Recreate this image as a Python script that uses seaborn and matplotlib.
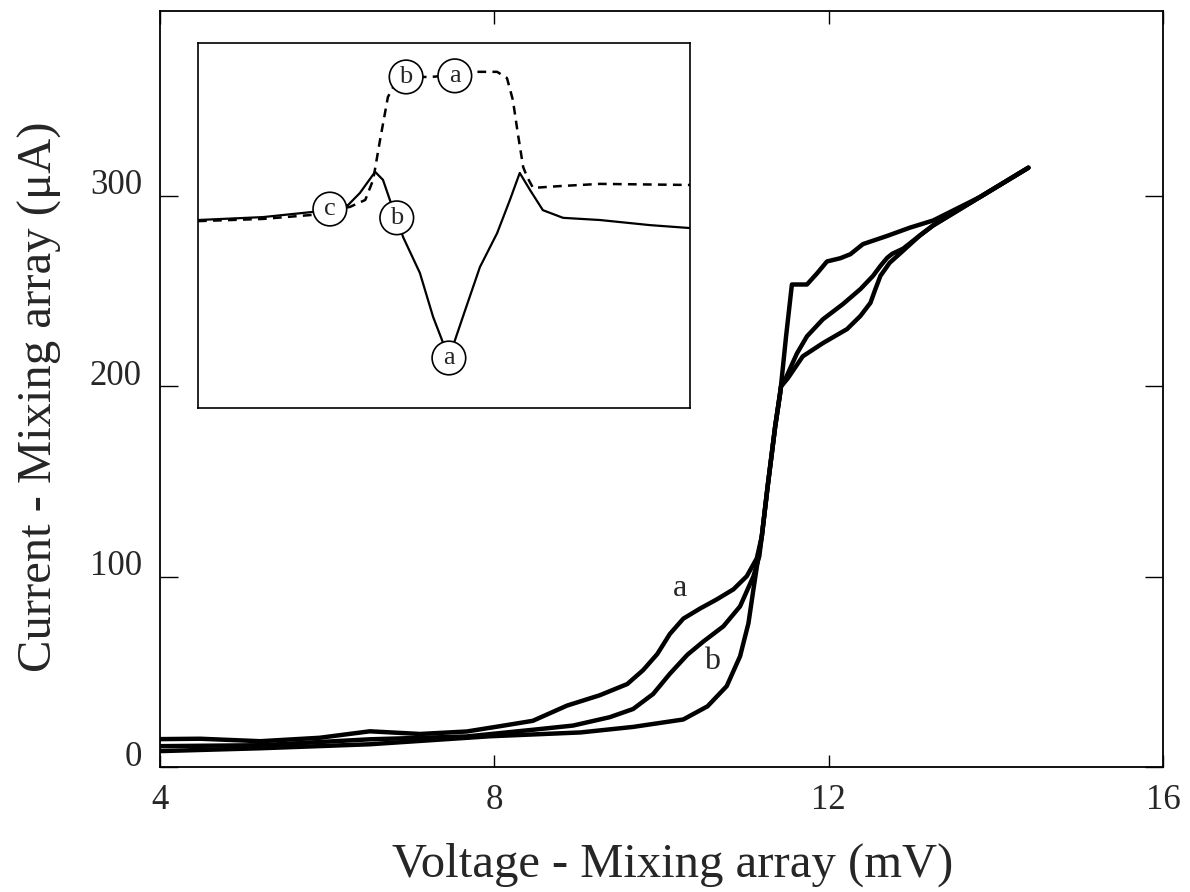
import matplotlib.pyplot as plt
import seaborn as sns
from matplotlib.transforms import ScaledTranslation

# Main I-V curves: voltage (mV) and current (uA)
volt_a = [4.00, 4.48, 5.20, 5.91, 6.51, 7.11, 7.67, 8.07, 8.46, 8.87, 9.26, 9.59, 9.78, 9.95,
          10.10, 10.26, 10.46, 10.66, 10.86, 11.02, 11.14, 11.20, 11.27, 11.36, 11.43, 11.51,
          11.69, 11.93, 12.22, 12.38, 12.50, 12.56, 12.62, 12.73, 12.89, 13.09, 13.25, 13.81, 14.39]
curr_a = [14.7, 14.9, 13.6, 15.4, 18.8, 17.4, 18.7, 21.5, 24.3, 32.3, 37.7, 43.6, 50.9, 59.4,
          69.9, 77.9, 83.2, 88.0, 93.3, 100.2, 109.6, 121.2, 147.4, 178.8, 199.8, 204.0,
          215.6, 222.5, 229.9, 236.8, 243.7, 251.0, 257.9, 264.7, 271.0, 279.0, 284.3, 299.2, 314.6]

volt_b = [4.00, 5.20, 6.51, 7.67, 8.46, 8.94, 9.38, 9.66, 9.90, 10.10, 10.31, 10.50, 10.74,
          10.94, 11.10, 11.17, 11.20, 11.27, 11.36, 11.43, 11.48, 11.62, 11.74, 11.93, 12.17,
          12.38, 12.53, 12.62, 12.70, 12.76, 12.89, 13.09, 13.25, 13.81, 14.39]
curr_b = [11.0, 11.5, 14.6, 16.1, 19.6, 21.8, 26.2, 30.5, 38.4, 49.0, 59.0, 65.9, 73.9,
          84.4, 100.2, 110.7, 121.2, 147.4, 178.8, 199.8, 203.5, 217.1, 226.1, 235.0, 243.0,
          250.9, 257.8, 263.1, 267.3, 269.4, 272.1, 279.0, 284.3, 299.2, 314.6]

volt_c = [4.00, 5.20, 6.51, 7.95, 9.03, 9.66, 10.26, 10.55, 10.78, 10.94, 11.04, 11.10, 11.16,
          11.20, 11.27, 11.36, 11.42, 11.49, 11.56, 11.74, 11.86, 11.98, 12.14, 12.26, 12.41,
          12.70, 12.97, 13.25, 13.81, 14.39]
curr_c = [8.4, 9.9, 12.0, 16.2, 18.2, 21.1, 25.0, 31.9, 42.5, 58.2, 75.5, 93.4, 110.7,
          121.2, 147.4, 178.8, 196.1, 226.0, 253.3, 253.3, 259.1, 265.4, 267.1, 269.2, 274.5,
          278.8, 283.1, 286.9, 299.2, 314.6]

# Inset traces (arbitrary units, no scale shown)
inset_u_solid = [0, 13.2, 23.2, 30.5, 32.9, 36.0, 37.6, 39.0, 40.4, 41.7, 45.1, 47.8, 51.0,
                 54.3, 57.3, 60.8, 63.4, 65.4, 67.5, 70.1, 74.2, 81.7, 91.9, 100]
inset_v_solid = [51.5, 52.3, 53.7, 55.6, 58.9, 64.7, 62.5, 57.0, 52.1, 46.8, 37.0, 24.9, 13.7,
                 26.8, 38.6, 47.9, 57.0, 64.4, 59.7, 54.2, 52.1, 51.5, 50.1, 49.3]
inset_u_dash = [0, 13.2, 23.2, 26.8, 30.9, 34.0, 35.6, 37.0, 38.6, 39.6, 42.1, 47.2, 52.2,
                56.7, 60.8, 62.8, 64.0, 65.0, 66.1, 66.9, 68.1, 73.6, 81.7, 100]
inset_v_dash = [51.2, 51.8, 52.9, 54.0, 55.1, 57.0, 62.5, 73.4, 85.2, 87.7, 90.7, 90.7, 91.2,
                92.1, 92.1, 90.4, 84.4, 75.3, 66.0, 63.3, 60.3, 60.8, 61.4, 61.1]

# circled markers in the inset
circle_labels = ['c', 'b', 'a', 'b', 'a']
circle_u = [26.8, 40.4, 51.0, 42.3, 52.2]
circle_v = [54.5, 52.1, 13.7, 90.7, 91.0]

sns.set_style('ticks')
plt.rcParams['font.family'] = ['Liberation Serif', 'DejaVu Serif']

fig = plt.figure(figsize=(11.9, 8.92), dpi=100)
ax = fig.add_axes([0.1345, 0.140, 0.8428, 0.848])

for v, c in [(volt_a, curr_a), (volt_b, curr_b), (volt_c, curr_c)]:
    sns.lineplot(x=v, y=c, ax=ax, color='black', lw=3.2, sort=False, estimator=None,
                 solid_capstyle='round', solid_joinstyle='round')

ax.text(10.22, 93.6, 'a', fontsize=23, ha='center', va='center')
ax.text(10.60, 55.4, 'b', fontsize=23, ha='center', va='center')

ax.set_xlim(4, 16)
ax.set_ylim(0, 397)
ax.set_xticks([4, 8, 12, 16])
ax.set_yticks([0, 100, 200, 300])
ax.tick_params(direction='in', top=True, right=True, labelsize=25, color='black', width=1)
ax.tick_params(axis='y', length=13, pad=13)
ax.tick_params(axis='x', length=9, pad=12)
for s in ax.spines.values():
    s.set_linewidth(1.3)
    s.set_color('black')

# labels in the original sit a little above their ticks
for lab in ax.get_yticklabels():
    lab.set_transform(lab.get_transform() + ScaledTranslation(0, 0.14, fig.dpi_scale_trans))

ax.set_xlabel('Voltage - Mixing array (mV)', fontsize=35)
ax.set_ylabel('Current - Mixing array (\u03bcA)', fontsize=35)
ax.xaxis.set_label_coords(0.511, -0.100)
ax.yaxis.set_label_coords(-0.098, 0.49)

# inset
ax_in = fig.add_axes([0.1664, 0.5426, 0.4134, 0.4092])
sns.lineplot(x=inset_u_solid, y=inset_v_solid, ax=ax_in, color='black', lw=1.6,
             sort=False, estimator=None)
sns.lineplot(x=inset_u_dash, y=inset_v_dash, ax=ax_in, color='black', lw=1.8,
             sort=False, estimator=None, linestyle=(0, (3.5, 2.5)))
for lab, u, v in zip(circle_labels, circle_u, circle_v):
    ax_in.text(u, v, lab, fontsize=19, ha='center', va='center', zorder=5,
               bbox=dict(boxstyle='circle,pad=0.22', fc='white', ec='black', lw=1.2))
ax_in.set_xlim(0, 100)
ax_in.set_ylim(0, 100)
ax_in.set_xticks([])
ax_in.set_yticks([])
ax_in.set_xlabel('')
ax_in.set_ylabel('')
for s in ax_in.spines.values():
    s.set_linewidth(1.2)
    s.set_color('black')

fig.savefig('out.png', dpi=100, facecolor='white')
